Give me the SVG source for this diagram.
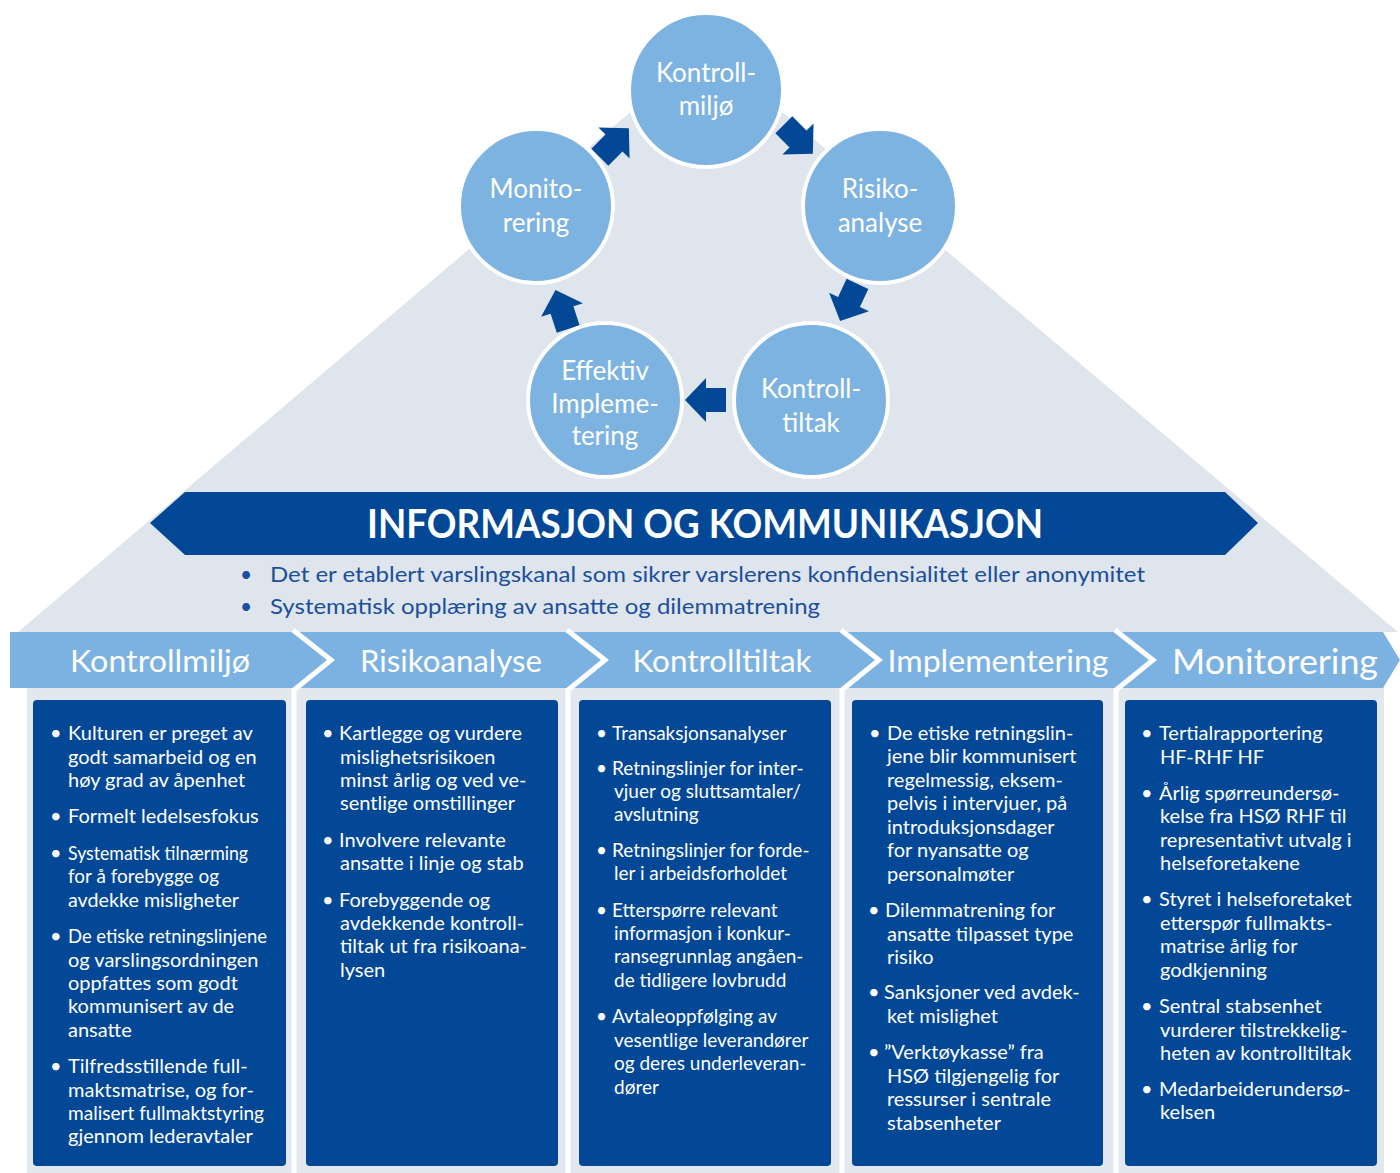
<svg xmlns="http://www.w3.org/2000/svg" xmlns:xlink="http://www.w3.org/1999/xlink" width="1400" height="1173" viewBox="0 0 1400 1173">
<style>
.bg{fill:#dfe5ec}
.panel{fill:#e3e8ef}
.circ{fill:#7db3e1;stroke:#ffffff;stroke-width:4}
.ctext{font-family:Lato,"Open Sans",sans-serif;font-size:26px;fill:#ffffff;text-anchor:middle}
.arrow{fill:#034896}
.banner{fill:#034896}
.btitle{font-family:Lato,"Open Sans",sans-serif;font-weight:bold;font-size:40px;fill:#ffffff;text-anchor:middle}
.info{font-family:Lato,"Open Sans",sans-serif;font-size:21px;fill:#1b4f9b}
.hdr{fill:#7cb2e1}
.htext{font-family:Lato,"Open Sans",sans-serif;font-size:31px;fill:#ffffff;text-anchor:middle}
.sep{fill:none;stroke:#ffffff;stroke-width:5}
.box{fill:#034896}
.t{font-family:Lato,"Open Sans",sans-serif;font-size:20px;fill:#ffffff}
.t3{font-family:Lato,"Open Sans",sans-serif;font-size:19px;fill:#ffffff}
</style>
<defs>
<path id="arr" d="M-20,-12 L0,-12 L0,-22 L21,0 L0,22 L0,12 L-20,12 Z"/>
</defs>
<rect width="1400" height="1173" fill="#ffffff"/>
<g id="background">
<polygon class="bg" points="18,632 706,48 1398,632"/>
<rect class="panel" x="27" y="686" width="1357" height="487"/>
</g>
<g id="header-band">
<polygon class="hdr" points="10,632 1383,632 1400,660 1383,688 10,688"/>
<polyline class="sep" points="293,630 331,660 294,690 294,1173"/>
<polyline class="sep" points="567,630 605,660 568,690 568,1173"/>
<polyline class="sep" points="841,630 879,660 842,690 842,1173"/>
<polyline class="sep" points="1115,630 1153,660 1116,690 1116,1173"/>
<text class="htext" x="160" y="672" textLength="180" lengthAdjust="spacingAndGlyphs">Kontrollmiljø</text>
<text class="htext" x="451" y="672" textLength="182" lengthAdjust="spacingAndGlyphs">Risikoanalyse</text>
<text class="htext" x="722" y="672" textLength="179" lengthAdjust="spacingAndGlyphs">Kontrolltiltak</text>
<text class="htext" x="998" y="672" textLength="221" lengthAdjust="spacingAndGlyphs">Implementering</text>
<text class="htext" x="1275" y="674" style="font-size:35px" textLength="206" lengthAdjust="spacingAndGlyphs">Monitorering</text>
</g>
<g id="banner">
<polygon class="banner" points="150,523 185,492 1225,492 1258,523 1225,555 185,555"/>
<text class="btitle" x="705" y="538" textLength="676" lengthAdjust="spacingAndGlyphs">INFORMASJON OG KOMMUNIKASJON</text>
<text class="info" x="240" y="582">•</text>
<text class="info" x="270" y="582" textLength="875" lengthAdjust="spacingAndGlyphs">Det er etablert varslingskanal som sikrer varslerens konfidensialitet eller anonymitet</text>
<text class="info" x="240" y="614">•</text>
<text class="info" x="270" y="614" textLength="550" lengthAdjust="spacingAndGlyphs">Systematisk opplæring av ansatte og dilemmatrening</text>
</g>
<g id="connectors">
<use xlink:href="#arr" class="arrow" transform="translate(614,143) rotate(-45)"/>
<use xlink:href="#arr" class="arrow" transform="translate(798,139) rotate(45)"/>
<use xlink:href="#arr" class="arrow" transform="translate(849,302) rotate(115)"/>
<use xlink:href="#arr" class="arrow" transform="translate(706,400) rotate(180)"/>
<use xlink:href="#arr" class="arrow" transform="translate(562,310) rotate(-108)"/>
</g>
<g id="node-kontrollmiljo">
<circle class="circ" cx="706" cy="90" r="77"/>
<text class="ctext" x="706" y="82">Kontroll-</text>
<text class="ctext" x="706" y="115">miljø</text>
</g>
<g id="node-risikoanalyse">
<circle class="circ" cx="880" cy="206" r="77"/>
<text class="ctext" x="880" y="198">Risiko-</text>
<text class="ctext" x="880" y="232">analyse</text>
</g>
<g id="node-kontrolltiltak">
<circle class="circ" cx="811" cy="400" r="77"/>
<text class="ctext" x="811" y="398">Kontroll-</text>
<text class="ctext" x="811" y="432">tiltak</text>
</g>
<g id="node-implementering">
<circle class="circ" cx="605" cy="400" r="77"/>
<text class="ctext" x="605" y="380">Effektiv</text>
<text class="ctext" x="605" y="413">Impleme-</text>
<text class="ctext" x="605" y="445">tering</text>
</g>
<g id="node-monitorering">
<circle class="circ" cx="536" cy="206" r="77"/>
<text class="ctext" x="536" y="198">Monito-</text>
<text class="ctext" x="536" y="232">rering</text>
</g>
<g id="col-kontrollmiljo">
<rect class="box" x="33" y="700" width="253" height="466" rx="4"/>
<text class="t" x="50" y="740">•</text><text class="t" x="68" y="740">Kulturen er preget av</text>
<text class="t" x="68" y="764">godt samarbeid og en</text>
<text class="t" x="68" y="787">høy grad av åpenhet</text>
<text class="t" x="50" y="823">•</text><text class="t" x="68" y="823">Formelt ledelsesfokus</text>
<text class="t" x="50" y="860">•</text><text class="t" x="68" y="860" textLength="180" lengthAdjust="spacingAndGlyphs">Systematisk tilnærming</text>
<text class="t" x="68" y="883" textLength="151" lengthAdjust="spacingAndGlyphs">for å forebygge og</text>
<text class="t" x="68" y="907" textLength="171" lengthAdjust="spacingAndGlyphs">avdekke misligheter</text>
<text class="t" x="50" y="943">•</text><text class="t" x="68" y="943" textLength="199" lengthAdjust="spacingAndGlyphs">De etiske retningslinjene</text>
<text class="t" x="68" y="967">og varslingsordningen</text>
<text class="t" x="68" y="990">oppfattes som godt</text>
<text class="t" x="68" y="1013">kommunisert av de</text>
<text class="t" x="68" y="1037">ansatte</text>
<text class="t" x="50" y="1073">•</text><text class="t" x="68" y="1073">Tilfredsstillende full-</text>
<text class="t" x="68" y="1097">maktsmatrise, og for-</text>
<text class="t" x="68" y="1120" textLength="196" lengthAdjust="spacingAndGlyphs">malisert fullmaktstyring</text>
<text class="t" x="68" y="1143">gjennom lederavtaler</text>
</g>
<g id="col-risikoanalyse">
<rect class="box" x="306" y="700" width="252" height="466" rx="4"/>
<text class="t" x="322" y="740">•</text><text class="t" x="339" y="740">Kartlegge og vurdere</text>
<text class="t" x="340" y="764">mislighetsrisikoen</text>
<text class="t" x="340" y="787">minst årlig og ved ve-</text>
<text class="t" x="340" y="810">sentlige omstillinger</text>
<text class="t" x="322" y="847">•</text><text class="t" x="339" y="847">Involvere relevante</text>
<text class="t" x="340" y="870">ansatte i linje og stab</text>
<text class="t" x="322" y="907">•</text><text class="t" x="339" y="907">Forebyggende og</text>
<text class="t" x="340" y="930">avdekkende kontroll-</text>
<text class="t" x="340" y="953">tiltak ut fra risikoana-</text>
<text class="t" x="340" y="977">lysen</text>
</g>
<g id="col-kontrolltiltak">
<rect class="box" x="579" y="700" width="252" height="466" rx="4"/>
<text class="t3" x="596" y="740">•</text><text class="t3" x="612" y="740">Transaksjonsanalyser</text>
<text class="t3" x="596" y="775">•</text><text class="t3" x="612" y="775">Retningslinjer for inter-</text>
<text class="t3" x="614" y="798">vjuer og sluttsamtaler/</text>
<text class="t3" x="614" y="821">avslutning</text>
<text class="t3" x="596" y="857">•</text><text class="t3" x="612" y="857">Retningslinjer for forde-</text>
<text class="t3" x="614" y="880">ler i arbeidsforholdet</text>
<text class="t3" x="596" y="917">•</text><text class="t3" x="612" y="917">Etterspørre relevant</text>
<text class="t3" x="614" y="940">informasjon i konkur-</text>
<text class="t3" x="614" y="963">ransegrunnlag angåen-</text>
<text class="t3" x="614" y="987">de tidligere lovbrudd</text>
<text class="t3" x="596" y="1023">•</text><text class="t3" x="612" y="1023">Avtaleoppfølging av</text>
<text class="t3" x="614" y="1047">vesentlige leverandører</text>
<text class="t3" x="614" y="1070">og deres underleveran-</text>
<text class="t3" x="614" y="1094">dører</text>
</g>
<g id="col-implementering">
<rect class="box" x="852" y="700" width="251" height="466" rx="4"/>
<text class="t" x="869" y="740">•</text><text class="t" x="887" y="740">De etiske retningslin-</text>
<text class="t" x="887" y="763">jene blir kommunisert</text>
<text class="t" x="887" y="787">regelmessig, eksem-</text>
<text class="t" x="887" y="810">pelvis i intervjuer, på</text>
<text class="t" x="887" y="834">introduksjonsdager</text>
<text class="t" x="887" y="857">for nyansatte og</text>
<text class="t" x="887" y="881">personalmøter</text>
<text class="t" x="868" y="917">•</text><text class="t" x="885" y="917">Dilemmatrening for</text>
<text class="t" x="887" y="941">ansatte tilpasset type</text>
<text class="t" x="887" y="964">risiko</text>
<text class="t" x="868" y="999">•</text><text class="t" x="884" y="999">Sanksjoner ved avdek-</text>
<text class="t" x="887" y="1023">ket mislighet</text>
<text class="t" x="868" y="1059">•</text><text class="t" x="884" y="1059">”Verktøykasse” fra</text>
<text class="t" x="887" y="1083">HSØ tilgjengelig for</text>
<text class="t" x="887" y="1106">ressurser i sentrale</text>
<text class="t" x="887" y="1130">stabsenheter</text>
</g>
<g id="col-monitorering">
<rect class="box" x="1125" y="700" width="252" height="466" rx="4"/>
<text class="t" x="1141" y="740">•</text><text class="t" x="1159" y="740">Tertialrapportering</text>
<text class="t" x="1160" y="764">HF-RHF HF</text>
<text class="t" x="1141" y="800">•</text><text class="t" x="1159" y="800">Årlig spørreundersø-</text>
<text class="t" x="1160" y="823">kelse fra HSØ RHF til</text>
<text class="t" x="1160" y="847">representativt utvalg i</text>
<text class="t" x="1160" y="870">helseforetakene</text>
<text class="t" x="1141" y="906">•</text><text class="t" x="1159" y="906">Styret i helseforetaket</text>
<text class="t" x="1160" y="930">etterspør fullmakts-</text>
<text class="t" x="1160" y="953">matrise årlig for</text>
<text class="t" x="1160" y="977">godkjenning</text>
<text class="t" x="1141" y="1013">•</text><text class="t" x="1159" y="1013">Sentral stabsenhet</text>
<text class="t" x="1160" y="1037">vurderer tilstrekkelig-</text>
<text class="t" x="1160" y="1060">heten av kontrolltiltak</text>
<text class="t" x="1141" y="1096">•</text><text class="t" x="1159" y="1096">Medarbeiderundersø-</text>
<text class="t" x="1160" y="1119">kelsen</text>
</g>
</svg>
